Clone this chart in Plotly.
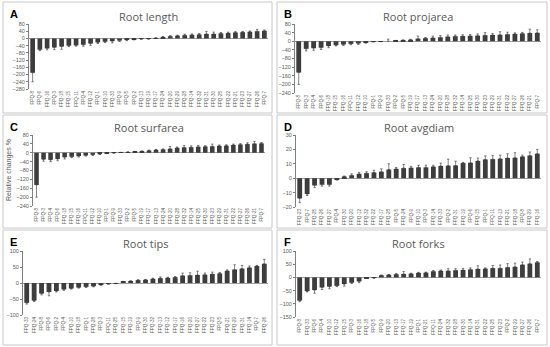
import plotly.graph_objects as go

# ---------------- data ----------------
a_labels = ["FPQ-8","FPQ-6","FPQ-16","FPQ-3","FPQ-18","FPQ-15","FPQ-11","FPQ-4","FPQ-12","FPQ-1","FPQ-10",
            "FPQ-33","FPQ-9","FPQ-5","FPQ-2","FPQ-13","FPQ-19","FPQ-17","FPQ-24","FPQ-20","FPQ-29","FPQ-28",
            "FPQ-14","FPQ-32","FPQ-31","FPQ-30","FPQ-25","FPQ-22","FPQ-21","FPQ-23","FPQ-27","FPQ-26","FPQ-7"]
a_values = [-190,-62,-55,-50,-45,-40,-38,-35,-28,-22,-18,-15,-12,-8,-5,-3,-2,2,8,12,15,18,20,22,25,25,28,30,33,35,37,40,42]
a_errors = [50,5,8,12,15,5,5,8,10,6,5,10,5,4,3,2,2,2,3,3,3,6,5,5,14,10,5,5,5,4,4,10,5]

b_labels = ["FPQ-8","FPQ-3","FPQ-4","FPQ-6","FPQ-18","FPQ-15","FPQ-16","FPQ-11","FPQ-12","FPQ-10","FPQ-1",
            "FPQ-9","FPQ-33","FPQ-2","FPQ-5","FPQ-19","FPQ-17","FPQ-13","FPQ-24","FPQ-20","FPQ-28","FPQ-32",
            "FPQ-14","FPQ-25","FPQ-30","FPQ-23","FPQ-29","FPQ-31","FPQ-22","FPQ-27","FPQ-26","FPQ-21","FPQ-7"]
b_values = [-145,-35,-32,-30,-22,-18,-15,-12,-10,-6,-2,-1,0,3,5,7,12,14,16,18,21,23,24,25,26,28,29,30,32,34,36,38,39]
b_errors = [55,10,10,8,8,4,5,4,5,3,1,1,10,1,1,2,12,3,8,8,8,6,6,6,8,12,6,14,10,5,5,18,14]

c_labels = ["FPQ-8","FPQ-3","FPQ-4","FPQ-6","FPQ-18","FPQ-15","FPQ-16","FPQ-11","FPQ-12","FPQ-10","FPQ-1",
            "FPQ-9","FPQ-33","FPQ-2","FPQ-5","FPQ-19","FPQ-17","FPQ-13","FPQ-24","FPQ-20","FPQ-28","FPQ-32",
            "FPQ-14","FPQ-25","FPQ-30","FPQ-23","FPQ-29","FPQ-31","FPQ-22","FPQ-27","FPQ-26","FPQ-21","FPQ-7"]
c_values = [-145,-30,-32,-28,-20,-18,-15,-12,-9,-6,-2,-1,1,3,5,7,10,13,15,18,22,24,25,27,28,29,31,32,35,37,39,41,42]
c_errors = [55,8,8,8,8,4,4,3,3,2,1,1,1,1,1,1,2,2,2,10,4,8,6,6,4,10,4,4,4,4,6,10,4]

d_labels = ["FPQ-23","FPQ-7","FPQ-25","FPQ-26","FPQ-27","FPQ-4","FPQ-30","FPQ-20","FPQ-12","FPQ-32","FPQ-22",
            "FPQ-17","FPQ-28","FPQ-5","FPQ-24","FPQ-9","FPQ-10","FPQ-3","FPQ-14","FPQ-33","FPQ-2","FPQ-31",
            "FPQ-19","FPQ-6","FPQ-15","FPQ-1","FPQ-11","FPQ-13","FPQ-21","FPQ-18","FPQ-8","FPQ-29","FPQ-16"]
d_values = [-14,-11,-5,-4.5,-4.5,-1,1.2,2,3,3.5,4,4.5,6,6.5,7,7.2,7.5,7.5,8,8.5,8.7,8.8,10.5,10.7,12,13,13.2,13.5,14,14.2,15,15.7,17]
d_errors = [3,1,1.5,1,1,0.3,0.3,1,1,1,1.5,2,4,1,2.5,1,1.5,1.5,1,2,4.5,3,0.5,3.5,2,2.5,2.5,2.5,3,3.5,1,2.5,3]

e_labels = ["FPQ-33","FPQ-24","FPQ-8","FPQ-6","FPQ-2","FPQ-4","FPQ-10","FPQ-18","FPQ-1","FPQ-28","FPQ-3",
            "FPQ-11","FPQ-25","FPQ-15","FPQ-19","FPQ-9","FPQ-30","FPQ-32","FPQ-13","FPQ-12","FPQ-17","FPQ-16",
            "FPQ-20","FPQ-27","FPQ-22","FPQ-23","FPQ-5","FPQ-21","FPQ-29","FPQ-31","FPQ-14","FPQ-7","FPQ-26"]
e_values = [-62,-55,-33,-28,-25,-20,-17,-14,-12,-10,-6,-3,-1,4,6,9,10,13,15,16,18,23,24,25,26,28,30,38,42,45,48,53,60]
e_errors = [4,3,4,12,3,3,2,2,2,2,1,1,1,1,1,1,1,2,4,2,2,8,8,12,5,6,3,3,15,10,5,2,14]

f_labels = ["FPQ-8","FPQ-33","FPQ-6","FPQ-4","FPQ-10","FPQ-12","FPQ-15","FPQ-3","FPQ-16","FPQ-18","FPQ-5",
            "FPQ-9","FPQ-20","FPQ-13","FPQ-17","FPQ-19","FPQ-1","FPQ-21","FPQ-11","FPQ-24","FPQ-32","FPQ-28",
            "FPQ-30","FPQ-14","FPQ-31","FPQ-22","FPQ-25","FPQ-23","FPQ-2","FPQ-29","FPQ-27","FPQ-26","FPQ-7"]
f_values = [-88,-52,-48,-38,-35,-32,-25,-20,-15,-3,-2,8,10,12,13,14,17,18,23,25,25,27,28,30,32,33,35,35,38,40,48,52,57]
f_errors = [4,3,12,8,8,3,8,3,5,1,1,1,1,2,9,2,2,2,3,3,8,6,6,6,12,3,10,12,14,14,10,18,3]

titles = ["Root length", "Root projarea", "Root surfarea", "Root avgdiam", "Root tips", "Root forks"]
letters = ["A", "B", "C", "D", "E", "F"]
y_ranges = [[-280, 80], [-240, 80], [-240, 80], [-20, 30], [-100, 100], [-150, 100]]
y_dticks = [40, 40, 40, 10, 50, 50]

# ---------------- layout geometry (pixels) ----------------
W, H = 550, 347
plot_px = [  # x0, x1, y_top, y_bottom
    (29, 268, 24, 89),
    (295, 541, 24, 93),
    (33, 265, 135, 206),
    (296, 541, 135, 207),
    (23, 268, 251, 315),
    (296, 541, 251, 317),
]
box_px = [
    (3, 272, 2, 113), (277, 547, 2, 113),
    (3, 272, 115, 228), (277, 547, 115, 228),
    (3, 272, 230, 345), (277, 547, 230, 345),
]

panels = [
    (a_labels, a_values, a_errors),
    (b_labels, b_values, b_errors),
    (c_labels, c_values, c_errors),
    (d_labels, d_values, d_errors),
    (e_labels, e_values, e_errors),
    (f_labels, f_values, f_errors),
]

fig = go.Figure()
shapes = []
annotations = []
layout_axes = {}

for i, (labels, values, errors) in enumerate(panels):
    n = i + 1
    xa = "x" if n == 1 else f"x{n}"
    ya = "y" if n == 1 else f"y{n}"
    plus = [e if v >= 0 else 0 for v, e in zip(values, errors)]
    minus = [e if v < 0 else 0 for v, e in zip(values, errors)]
    fig.add_trace(go.Bar(
        x=labels, y=values, xaxis=xa, yaxis=ya,
        marker=dict(color="#3d3d3d", line=dict(width=0)),
        error_y=dict(type="data", symmetric=False, array=plus, arrayminus=minus,
                     color="#333333", thickness=0.6, width=1.2),
        showlegend=False,
    ))
    x0, x1, yt, yb = plot_px[i]
    layout_axes["xaxis" if n == 1 else f"xaxis{n}"] = dict(
        domain=[x0 / W, x1 / W], anchor=ya, type="category",
        range=[-0.5, len(labels) - 0.5],
        tickangle=-90, tickfont=dict(size=4.6, color="#595959", family="Liberation Sans"),
        showline=False, showgrid=False, ticks="", fixedrange=True, automargin=False,
    )
    layout_axes["yaxis" if n == 1 else f"yaxis{n}"] = dict(
        domain=[1 - yb / H, 1 - yt / H], anchor=xa,
        range=y_ranges[i], dtick=y_dticks[i], tick0=y_ranges[i][0],
        tickfont=dict(size=5.5, color="#595959", family="Liberation Sans"),
        showline=True, linecolor="#808080", linewidth=1,
        ticks="outside", ticklen=2, tickcolor="#808080",
        showgrid=False, zeroline=True, zerolinecolor="#a0a0a0", zerolinewidth=1,
        fixedrange=True, automargin=False,
    )
    bx0, bx1, by0, by1 = box_px[i]
    shapes.append(dict(type="rect", xref="paper", yref="paper",
                       x0=bx0 / W, x1=bx1 / W, y0=1 - by1 / H, y1=1 - by0 / H,
                       line=dict(color="#c8c8c8", width=1)))
    annotations.append(dict(text=titles[i], xref="paper", yref="paper",
                            x=(x0 + x1) / 2 / W, y=1 - (yt - 8) / H,
                            showarrow=False, xanchor="center", yanchor="middle",
                            font=dict(size=11, color="#595959", family="Open Sans")))
    annotations.append(dict(text="<b>" + letters[i] + "</b>", xref="paper", yref="paper",
                            x=(bx0 + 5) / W, y=1 - (by0 + 12) / H,
                            showarrow=False, xanchor="left", yanchor="middle",
                            font=dict(size=11, color="#000000", family="Liberation Sans")))

annotations.append(dict(text="Relative changes %", xref="paper", yref="paper",
                        x=9 / W, y=1 - 170 / H, textangle=-90, showarrow=False,
                        xanchor="center", yanchor="middle",
                        font=dict(size=7, color="#595959", family="Liberation Sans")))

fig.update_layout(
    width=W, height=H, margin=dict(l=0, r=0, t=0, b=0),
    paper_bgcolor="white", plot_bgcolor="white",
    bargap=0.35, shapes=shapes, annotations=annotations,
    **layout_axes,
)

fig.write_html("out.html", config={"displayModeBar": False},
               post_script="document.body.style.margin='0';document.body.style.padding='0';")
